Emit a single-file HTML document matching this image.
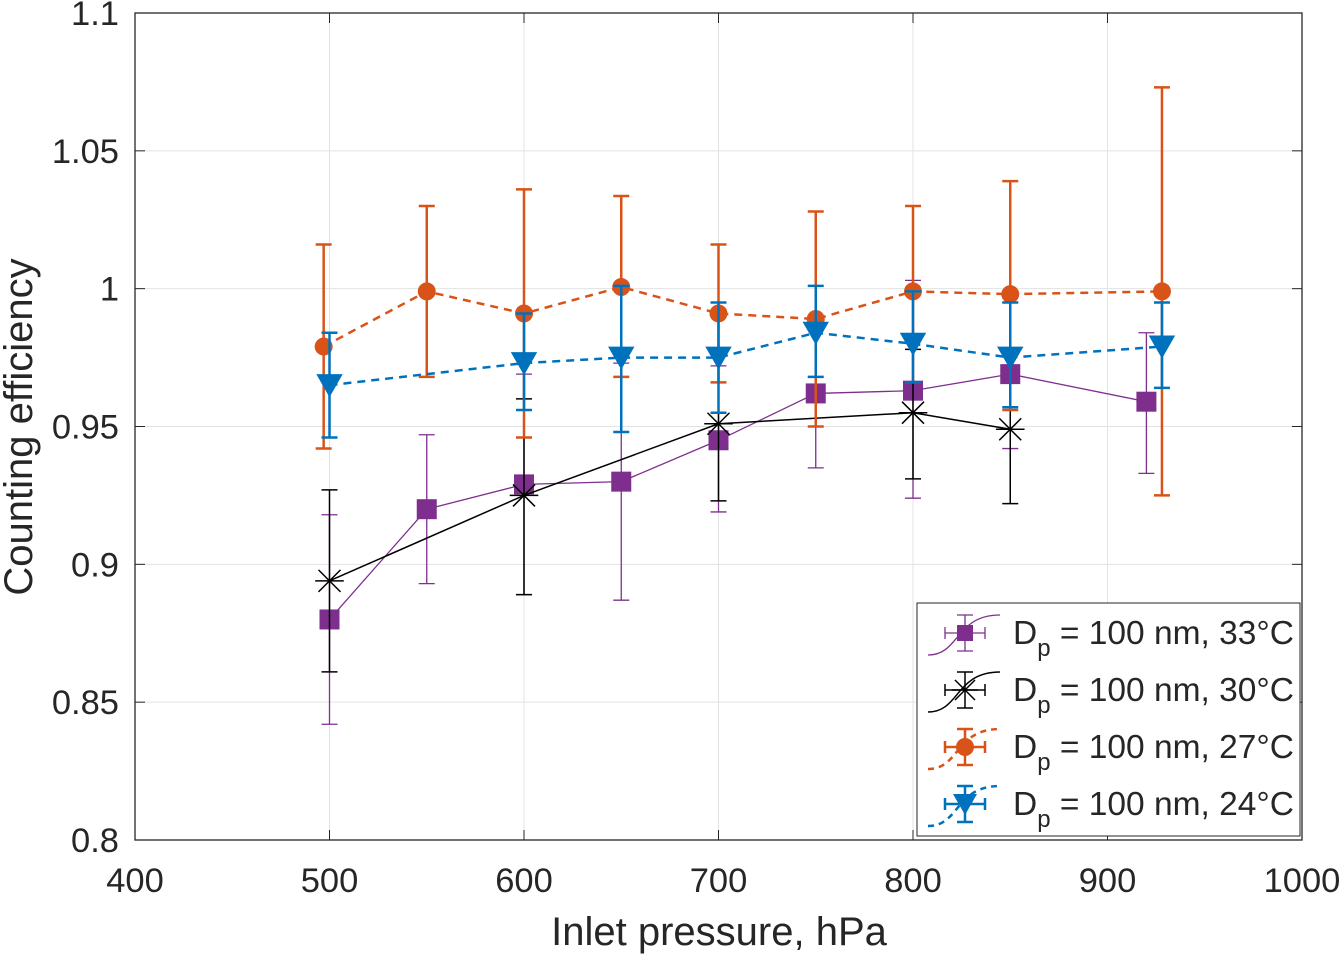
<!DOCTYPE html>
<html><head><meta charset="utf-8"><style>
body{margin:0;background:#fff;font-family:"Liberation Sans",Arial,sans-serif}
svg text{font-family:"Liberation Sans",Arial,sans-serif;fill:#262626}
</style></head><body>
<svg id="chart" width="1342" height="954" xmlns="http://www.w3.org/2000/svg"></svg>
<script>
const xTicks=[400,500,600,700,800,900,1000];
const yTicks=[0.8,0.85,0.9,0.95,1,1.05,1.1];
const yTickLabels=['0.8','0.85','0.9','0.95','1','1.05','1.1'];
const p33x=[500,550,600,650,700,750,800,850,920];
const p33y=[0.880,0.920,0.929,0.930,0.945,0.962,0.963,0.969,0.959];
const p33lo=[0.842,0.893,0.889,0.887,0.919,0.935,0.924,0.942,0.933];
const p33hi=[0.918,0.947,0.969,0.973,0.972,0.989,1.003,0.995,0.984];
const p30x=[500,600,700,800,850];
const p30y=[0.894,0.925,0.951,0.955,0.949];
const p30lo=[0.861,0.889,0.923,0.931,0.922];
const p30hi=[0.927,0.960,0.978,0.978,0.977];
const p27x=[497,550,600,650,700,750,800,850,928];
const p27y=[0.979,0.999,0.991,1.0006,0.991,0.989,0.999,0.998,0.999];
const p27lo=[0.942,0.968,0.946,0.968,0.966,0.950,0.966,0.956,0.925];
const p27hi=[1.016,1.030,1.036,1.0336,1.016,1.028,1.030,1.039,1.073];
const p24x=[500,600,650,700,750,800,850,928];
const p24y=[0.965,0.973,0.975,0.975,0.984,0.980,0.975,0.979];
const p24lo=[0.946,0.956,0.948,0.955,0.968,0.966,0.957,0.964];
const p24hi=[0.984,0.991,1.001,0.995,1.001,0.999,0.995,0.995];

const L=135,R=1302,T=13,B=840;
const X=v=>L+(v-400)/600*(R-L);
const Y=v=>B-(v-0.8)/0.3*(B-T);
const svg=document.getElementById('chart');
const NS='http://www.w3.org/2000/svg';
function mk(tag,attrs,parent){const e=document.createElementNS(NS,tag);for(const k in attrs)e.setAttribute(k,attrs[k]);(parent||svg).appendChild(e);return e;}
mk('rect',{x:L,y:T,width:R-L,height:B-T,fill:'#fff'});
xTicks.forEach(t=>{
  const g=mk('line',{x1:X(t),x2:X(t),y1:T,y2:B,stroke:'#e3e3e3','stroke-width':1});
  
  
  mk('line',{x1:X(t),x2:X(t),y1:B,y2:B-10,stroke:'#262626'});
  mk('line',{x1:X(t),x2:X(t),y1:T,y2:T+10,stroke:'#262626'});
  const tx=mk('text',{x:X(t),y:B+52,'font-size':34.5,'text-anchor':'middle'});tx.textContent=t;
  
  
});
yTicks.forEach((t,i)=>{
  const g=mk('line',{x1:L,x2:R,y1:Y(t),y2:Y(t),stroke:'#e3e3e3','stroke-width':1});
  
  
  mk('line',{x1:L,x2:L+10,y1:Y(t),y2:Y(t),stroke:'#262626'});
  mk('line',{x1:R,x2:R-10,y1:Y(t),y2:Y(t),stroke:'#262626'});
  const tx=mk('text',{x:L-16,y:Y(t)+12,'font-size':34.5,'text-anchor':'end'});tx.textContent=yTickLabels[i];
  
  
});
const ax=mk('rect',{x:L,y:T,width:R-L,height:B-T,fill:'none',stroke:'#262626','stroke-width':1.3});


const xl=mk('text',{x:719,y:945,'font-size':40,'text-anchor':'middle'});xl.textContent='Inlet pressure, hPa';


const yl=mk('text',{x:0,y:0,'font-size':40,'text-anchor':'middle',transform:`translate(32,427) rotate(-90)`});yl.textContent='Counting efficiency';



function marker(g,type,cx,cy,color,s){
  if(type==='sq')mk('rect',{x:cx-s,y:cy-s,width:2*s,height:2*s,fill:color},g);
  else if(type==='circ')mk('circle',{cx,cy,r:s,fill:color},g);
  else if(type==='tri')mk('polygon',{points:`${cx-s*1.2},${cy-s} ${cx+s*1.2},${cy-s} ${cx},${cy+s*1.1}`,fill:color},g);
  else {mk('path',{d:`M${cx-s} ${cy-s}L${cx+s} ${cy+s}M${cx-s} ${cy+s}L${cx+s} ${cy-s}M${cx-s*1.3} ${cy}H${cx+s*1.3}`,stroke:color,'stroke-width':1.5},g);}
}
function series(name,xs,ys,lo,hi,color,w,dash,type,ms){
  const g=mk('g',{});
  
  
  mk('polyline',{points:xs.map((x,i)=>X(x)+','+Y(ys[i])).join(' '),fill:'none',stroke:color,'stroke-width':w,'stroke-dasharray':dash},g);
  xs.forEach((x,i)=>{
    const cx=X(x);
    mk('path',{d:`M${cx} ${Y(lo[i])}V${Y(hi[i])}M${cx-8} ${Y(lo[i])}H${cx+8}M${cx-8} ${Y(hi[i])}H${cx+8}`,stroke:color,'stroke-width':w,fill:'none'},g);
  });
  xs.forEach((x,i)=>marker(g,type,X(x),Y(ys[i]),color,ms));
}
series('series-33c',p33x,p33y,p33lo,p33hi,'#7e2f8e',1.3,'','sq',10);
series('series-30c',p30x,p30y,p30lo,p30hi,'#000',1.5,'','x',11);
series('series-27c',p27x,p27y,p27lo,p27hi,'#d95319',2.5,'8 6','circ',9);
series('series-24c',p24x,p24y,p24lo,p24hi,'#0072bd',2.5,'8 6','tri',11);

const lg=mk('g',{});


mk('rect',{x:917,y:603,width:383,height:233,fill:'#fff',stroke:'#262626','stroke-width':1},lg);
const items=[['#7e2f8e','sq','33°C',1.3,'',8],['#000','x','30°C',1.5,'',10],['#d95319','circ','27°C',2.5,'6 5',9],['#0072bd','tri','24°C',2.5,'6 5',10]];
items.forEach((it,i)=>{
  const cy=633+i*57;
  const e=mk('g',{},lg);
  
  
  mk('path',{d:`M928 ${cy+22}C960 ${cy+22} 955 ${cy-18} 1000 ${cy-18}`,fill:'none',stroke:it[0],'stroke-width':it[3],'stroke-dasharray':it[4]},e);
  mk('path',{d:`M965 ${cy-18}V${cy+18}M957 ${cy-18}H973M957 ${cy+18}H973M945 ${cy}H985M945 ${cy-6}V${cy+6}M985 ${cy-6}V${cy+6}`,stroke:it[0],'stroke-width':it[3]},e);
  marker(e,it[1],965,cy,it[0],it[5]);
  const t=mk('text',{x:1013,y:cy+11,'font-size':33.5},e);
  t.innerHTML=`D<tspan dy="12" font-size="24">p</tspan><tspan dy="-12"> = 100 nm, ${it[2]}</tspan>`;
});
</script>
</body></html>
